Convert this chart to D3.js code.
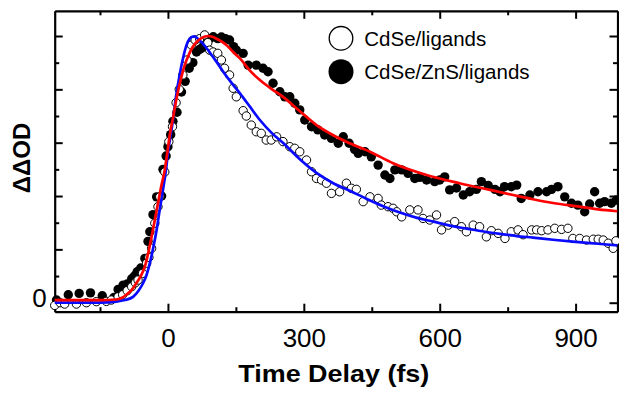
<!DOCTYPE html>
<html>
<head>
<meta charset="utf-8">
<script src="https://cdn.jsdelivr.net/npm/d3@7/dist/d3.min.js"></script>
<style>
  html, body { margin: 0; padding: 0; background: #fff; }
  svg { display: block; font-family: "Liberation Sans", Arial, Helvetica, sans-serif; }
</style>
</head>
<body>
<svg id="chart" width="619" height="394"></svg>
<script>
// ---------- DATA ----------
const seriesNames = ["CdSe/ligands", "CdSe/ZnS/ligands"];

// CdSe/ZnS/ligands : filled circles  [time (fs), ΔΔOD (normalised)]
const zns = [
  [-246,0.010],[-220,0.030],[-196,0.035],[-171,0.037],[-145,0.026],[-119,0.020],[-110,0.050],[-99,0.066],
  [-90,0.070],[-80,0.090],[-74,0.100],[-68,0.116],[-60,0.130],[-51,0.166],[-44,0.230],[-40,0.266],
  [-33,0.330],[-25,0.397],[-14,0.400],[-11,0.500],[-4,0.550],[0,0.585],[6,0.630],[11,0.680],[20,0.714],
  [30,0.790],[38,0.830],[47,0.879],[55,0.900],[63,0.940],[70,0.950],[74,0.954],[80,0.965],[85,0.980],
  [92,0.990],[100,0.997],[110,0.990],[118,0.996],[127,0.990],[136,0.985],[145,0.960],
  [151,0.947],[166,0.935],[177,0.891],[195,0.891],[210,0.879],[221,0.866],[232,0.823],[247,0.791],
  [258,0.772],[269,0.772],[280,0.748],[291,0.723],[302,0.685],[317,0.660],[331,0.648],[346,0.629],
  [361,0.616],[376,0.598],[387,0.622],[400,0.598],[412,0.575],[420,0.560],[435,0.566],[449,0.547],
  [464,0.516],[479,0.479],[490,0.466],[501,0.498],[516,0.498],[530,0.485],[545,0.466],[556,0.470],
  [571,0.460],[589,0.454],[600,0.460],[611,0.472],[622,0.423],[637,0.430],[652,0.404],[666,0.416],
  [681,0.425],[692,0.454],[707,0.440],[722,0.425],[733,0.416],[743,0.435],[758,0.435],[770,0.441],
  [780,0.391],[799,0.404],[817,0.416],[836,0.416],[847,0.425],[861,0.435],[876,0.397],[891,0.373],
  [905,0.366],[920,0.341],[931,0.370],[942,0.416],[953,0.373],[964,0.379],[979,0.373],[990,0.385]
];

// CdSe/ligands : open circles
const cdse = [
  [-250,-0.010],[-238,0.000],[-228,-0.005],[-202,-0.005],[-180,0.000],[-158,0.004],[-136,0.005],
  [-125,0.010],[-110,0.022],[-100,0.030],[-90,0.045],[-80,0.060],[-72,0.075],[-66,0.085],[-56,0.110],
  [-47,0.148],[-42,0.170],[-36,0.204],[-29,0.298],[-22,0.360],[-18,0.397],[-7,0.490],[2,0.604],
  [10,0.660],[18,0.750],[25,0.800],[33,0.854],[42,0.910],[52,0.966],[60,0.985],[70,0.990],[81,1.004],
  [88,0.975],[92,0.947],[100,0.940],[110,0.935],[118,0.910],[125,0.879],[136,0.854],[144,0.804],
  [151,0.772],[166,0.720],[173,0.700],[184,0.666],[195,0.641],[206,0.635],[217,0.610],[228,0.610],
  [240,0.622],[254,0.604],[269,0.585],[280,0.579],[291,0.566],[306,0.535],[317,0.491],[328,0.466],
  [339,0.460],[350,0.448],[361,0.410],[379,0.416],[394,0.448],[405,0.429],[416,0.425],[431,0.379],
  [446,0.397],[464,0.391],[471,0.366],[486,0.360],[497,0.354],[505,0.341],[516,0.322],[534,0.348],
  [552,0.348],[563,0.316],[578,0.310],[593,0.329],[604,0.273],[619,0.291],[633,0.304],[648,0.285],
  [659,0.266],[674,0.291],[688,0.285],[703,0.247],[714,0.270],[729,0.260],[744,0.241],[758,0.266],
  [773,0.273],[784,0.255],[803,0.273],[814,0.273],[825,0.270],[839,0.273],[854,0.279],[869,0.275],
  [883,0.279],[894,0.241],[909,0.241],[924,0.235],[939,0.238],[950,0.238],[961,0.235],[972,0.223],
  [983,0.204],[989,0.232]
];

// fit curves
const fitBlue = [
  [-250,0],[-150,0],[-114,0.004],[-95,0.010],[-77,0.022],[-65,0.045],[-55,0.073],[-47,0.105],[-40,0.148],
  [-32,0.210],[-25,0.273],[-18,0.350],[-11,0.423],[-5,0.490],[0,0.560],[11,0.685],[18,0.775],[26,0.856],
  [34,0.922],[41,0.966],[48,0.990],[55,0.998],[60,0.998],[66,0.990],[75,0.975],[85,0.955],[96,0.930],
  [107,0.904],[122,0.866],[140,0.825],[159,0.785],[181,0.735],[203,0.685],[230,0.635],[255,0.598],
  [290,0.540],[328,0.487],[365,0.448],[401,0.420],[438,0.390],[475,0.362],[512,0.338],[550,0.318],
  [586,0.304],[620,0.290],[659,0.278],[700,0.266],[733,0.258],[770,0.250],[806,0.244],[850,0.236],
  [900,0.228],[950,0.221],[992,0.215]
];
const fitRed = [
  [-250,0.010],[-150,0.010],[-114,0.012],[-100,0.020],[-92,0.030],[-80,0.048],[-70,0.073],[-60,0.100],
  [-51,0.135],[-43,0.190],[-36,0.248],[-29,0.310],[-22,0.373],[-15,0.435],[-7,0.498],[0,0.580],[4,0.629],
  [12,0.700],[19,0.766],[28,0.835],[37,0.891],[46,0.930],[55,0.960],[65,0.980],[74,0.992],[82,0.998],
  [89,1.000],[98,0.997],[107,0.990],[118,0.980],[129,0.966],[144,0.940],[159,0.916],[181,0.870],
  [203,0.835],[230,0.800],[254,0.772],[290,0.720],[328,0.666],[365,0.628],[401,0.598],[446,0.566],
  [497,0.523],[571,0.479],[644,0.448],[711,0.423],[762,0.404],[806,0.388],[850,0.374],[909,0.360],
  [950,0.350],[992,0.343]
];

const xTicks = [-150, 0, 150, 300, 450, 600, 750, 900];
const xTickLabels = ["", "0", "", "300", "", "600", "", "900"];
const yTicks = [0, 0.1, 0.2, 0.3, 0.4, 0.5, 0.6, 0.7, 0.8, 0.9, 1.0];
const yTickLabels = ["0", "", "", "", "", "", "", "", "", "", ""];
const xTitle = "Time Delay (fs)";
const yTitle = "ΔΔOD";

// ---------- DRAWING ----------
const svg = d3.select("#chart");
const L = 54.7, R = 617.5, T = 10.8, B = 311.7;
const x = d3.scaleLinear().domain([-250, 992.5]).range([L, R]);
const y = d3.scaleLinear().domain([-0.0337, 1.0945]).range([B, T]);

const isMajorX = v => Math.round(v) % 300 === 0;
const isMajorY = v => Math.round(v * 10) % 2 === 0;

function styleAxis(g, vertical, majorFn, sign) {
  g.select(".domain").attr("stroke", "#000").attr("stroke-width", 2.2);
  g.selectAll(".tick line").attr("stroke", "#000").attr("stroke-width", 2)
    .each(function(d) {
      const len = majorFn(d) ? 8 : 4.5;
      if (vertical) d3.select(this).attr("x2", sign * len);
      else d3.select(this).attr("y2", sign * len);
    });
}

// bottom
const gB = svg.append("g").attr("transform", `translate(0,${B})`)
  .call(d3.axisBottom(x).tickValues(xTicks).tickSizeOuter(0)
    .tickFormat((d, i) => xTickLabels[i]));
styleAxis(gB, false, isMajorX, -1);
gB.selectAll(".tick text").attr("y", 35).attr("dy", null)
  .attr("font-size", 26).attr("fill", "#000")
  .attr("font-family", "'Liberation Sans', Arial, sans-serif");

// top
const gT = svg.append("g").attr("transform", `translate(0,${T})`)
  .call(d3.axisTop(x).tickValues(xTicks).tickSizeOuter(0).tickFormat(""));
styleAxis(gT, false, isMajorX, 1);

// left
const gL = svg.append("g").attr("transform", `translate(${L},0)`)
  .call(d3.axisLeft(y).tickValues(yTicks).tickSizeOuter(0)
    .tickFormat((d, i) => yTickLabels[i]));
styleAxis(gL, true, isMajorY, 1);
gL.selectAll(".tick text").attr("x", -8).attr("dy", null).attr("y", 3.5)
  .attr("font-size", 26).attr("fill", "#000")
  .attr("font-family", "'Liberation Sans', Arial, sans-serif");

// right
const gR = svg.append("g").attr("transform", `translate(${R},0)`)
  .call(d3.axisRight(y).tickValues(yTicks).tickSizeOuter(0).tickFormat(""));
styleAxis(gR, true, isMajorY, -1);

// titles
svg.append("text").attr("x", 333.8).attr("y", 381.5).attr("text-anchor", "middle")
  .attr("font-size", 24.5).attr("font-weight", "bold")
  .attr("textLength", 191).attr("lengthAdjust", "spacingAndGlyphs")
  .text(xTitle);
svg.append("text").attr("transform", "translate(30,158) rotate(-90)")
  .attr("text-anchor", "middle").attr("font-size", 24).attr("font-weight", "bold")
  .text(yTitle);

// data points
const plot = svg.append("g");
plot.selectAll("circle.zns").data(zns).join("circle").attr("class", "zns")
  .attr("cx", d => x(d[0])).attr("cy", d => y(d[1])).attr("r", 4.7).attr("fill", "#000");
plot.selectAll("circle.cdse").data(cdse).join("circle").attr("class", "cdse")
  .attr("cx", d => x(d[0])).attr("cy", d => y(d[1])).attr("r", 4.2)
  .attr("fill", "#fff").attr("stroke", "#000").attr("stroke-width", 1);

// fits
const line = d3.line().x(d => x(d[0])).y(d => y(d[1])).curve(d3.curveMonotoneX);
plot.append("path").datum(fitBlue).attr("d", line).attr("fill", "none")
  .attr("stroke", "#0a0aff").attr("stroke-width", 2.7);
plot.append("path").datum(fitRed).attr("d", line).attr("fill", "none")
  .attr("stroke", "#ff0000").attr("stroke-width", 2.7);

// legend
const legY = [38.3, 71.7];
const leg = svg.append("g");
seriesNames.forEach((name, i) => {
  leg.append("circle").attr("cx", 341).attr("cy", legY[i]).attr("r", i === 0 ? 11.8 : 12.5)
    .attr("fill", i === 0 ? "#fff" : "#000").attr("stroke", "#000").attr("stroke-width", i === 0 ? 1.3 : 0);
  leg.append("text").attr("x", 364.3).attr("y", legY[i] + 7.4).attr("font-size", 20.5)
    .attr("fill", "#000").text(name);
});
</script>
</body>
</html>
